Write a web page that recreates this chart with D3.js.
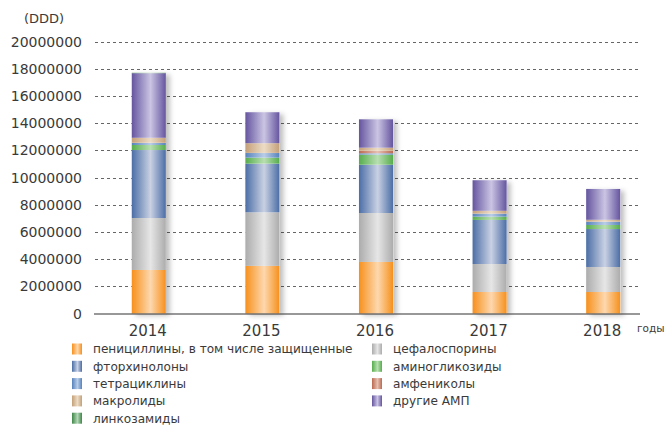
<!DOCTYPE html>
<html>
<head>
<meta charset="utf-8">
<script src="https://cdn.jsdelivr.net/npm/d3@7"></script>
<style>
  body { margin: 0; background: #fff; }
  text { font-family: "DejaVu Sans", sans-serif; fill: #3a3a3a; }
</style>
</head>
<body>
<svg id="chart" width="670" height="425"></svg>
<script>
// years on the x axis
var years = ["2014", "2015", "2016", "2017", "2018"];

// series in stacking order (bottom -> top), values in DDD
var seriesNames = [
  "пенициллины, в том числе защищенные",
  "цефалоспорины",
  "фторхинолоны",
  "аминогликозиды",
  "тетрациклины",
  "амфениколы",
  "макролиды",
  "другие АМП",
  "линкозамиды"
];
var penicillins     = [3200000, 3500000, 3790000, 1580000, 1580000];
var cephalosporins  = [3820000, 3940000, 3600000, 2060000, 1840000];
var fluoroquinolones= [5000000, 3580000, 3550000, 3240000, 2790000];
var aminoglycosides = [ 370000,  440000,  740000,  240000,  300000];
var tetracyclines   = [ 150000,  340000,  100000,  220000,  240000];
var amphenicols     = [  20000,   10000,  190000,   10000,   10000];
var macrolides      = [ 360000,  710000,  220000,  200000,  130000];
var otherAMP        = [4750000, 2280000, 2090000, 2250000, 2270000];
var lincosamides    = [  30000,       0,       0,       0,       0];
var seriesValues = [penicillins, cephalosporins, fluoroquinolones, aminoglycosides,
                    tetracyclines, amphenicols, macrolides, otherAMP, lincosamides];

// edge colour / highlight colour of each series
var edgeColors  = ["#f7901c", "#acacac", "#4b6ea6", "#56ad4c", "#5683bd", "#bb6a50", "#c4a078", "#65559f", "#3f8748"];
var lightColors = ["#fdd8ae", "#e6e6e6", "#c9d1e3", "#b8dfb1", "#b9cde6", "#e6c0b2", "#ecdcc6", "#cbc5e3", "#b3d6b7"];

var yTicks = [0, 2000000, 4000000, 6000000, 8000000, 10000000, 12000000, 14000000, 16000000, 18000000, 20000000];

// legend layout: two columns, filled column by column
var legendLeft  = [0, 2, 4, 6, 8];
var legendRight = [1, 3, 5, 7];

var svg = d3.select("#chart");

var x = d3.scaleBand().domain(years).range([92, 660]);
var y = d3.scaleLinear().domain([0, 20000000]).range([313.5, 41.5]);
var barW = x.bandwidth() * 0.3;

var defs = svg.append("defs");
edgeColors.forEach(function(c, i) {
  var g = defs.append("linearGradient").attr("id", "grad" + i)
      .attr("x1", "0").attr("x2", "1").attr("y1", "0").attr("y2", "0");
  g.append("stop").attr("offset", "0%").attr("stop-color", c);
  g.append("stop").attr("offset", "55%").attr("stop-color", lightColors[i]);
  g.append("stop").attr("offset", "100%").attr("stop-color", c);
});
var shadow = defs.append("filter").attr("id", "shadow")
    .attr("x", "-20%").attr("y", "-5%").attr("width", "160%").attr("height", "115%");
shadow.append("feDropShadow").attr("dx", 4).attr("dy", 2)
    .attr("stdDeviation", 2.5).attr("flood-color", "#000").attr("flood-opacity", 0.25);

// gridlines
svg.append("g").selectAll("line")
  .data(yTicks.slice(1))
  .enter().append("line")
    .attr("x1", 95).attr("x2", 640)
    .attr("y1", function(d) { return Math.round(y(d)) + 0.5; })
    .attr("y2", function(d) { return Math.round(y(d)) + 0.5; })
    .attr("stroke", "#666")
    .attr("stroke-dasharray", "3,3");

// y tick labels
svg.append("g").selectAll("text")
  .data(yTicks)
  .enter().append("text")
    .attr("x", 82)
    .attr("y", function(d) { return y(d); })
    .attr("dy", "0.36em")
    .attr("text-anchor", "end")
    .style("font-size", "14px")
    .text(function(d) { return d; });

svg.append("text").attr("x", 44).attr("y", 18).attr("dy", "0.36em")
  .attr("text-anchor", "middle").style("font-size", "13px").text("(DDD)");

// stacked bars
var table = years.map(function(yr, j) {
  var row = { year: yr };
  seriesNames.forEach(function(n, i) { row[n] = seriesValues[i][j]; });
  return row;
});
var stacked = d3.stack().keys(seriesNames)(table);

var bars = svg.append("g");
bars.selectAll("rect.shadow")
  .data(years)
  .enter().append("rect")
    .attr("class", "shadow")
    .attr("x", function(d) { return x(d) + x.bandwidth() / 2 - barW / 2; })
    .attr("width", barW)
    .attr("y", function(d, j) { return y(stacked[stacked.length - 1][j][1]); })
    .attr("height", function(d, j) { return y(0) - y(stacked[stacked.length - 1][j][1]); })
    .attr("fill", "#fff")
    .attr("filter", "url(#shadow)");

bars.selectAll("g.layer")
  .data(stacked)
  .enter().append("g")
    .attr("class", "layer")
    .attr("fill", function(d, i) { return "url(#grad" + i + ")"; })
  .selectAll("rect")
  .data(function(d) { return d; })
  .enter().append("rect")
    .attr("x", function(d) { return x(d.data.year) + x.bandwidth() / 2 - barW / 2; })
    .attr("width", barW)
    .attr("y", function(d) { return y(d[1]); })
    .attr("height", function(d) { return y(d[0]) - y(d[1]); });

// x axis line
svg.append("line")
  .attr("x1", 94).attr("x2", 640)
  .attr("y1", 314).attr("y2", 314)
  .attr("stroke", "#333").attr("stroke-width", 1.2);

svg.append("g").selectAll("text")
  .data(years)
  .enter().append("text")
    .attr("x", function(d) { return x(d) + x.bandwidth() / 2 - 1; })
    .attr("y", 331)
    .attr("dy", "0.36em")
    .attr("text-anchor", "middle")
    .style("font-size", "15px")
    .text(function(d) { return d; });

svg.append("text").attr("x", 637).attr("y", 328).attr("dy", "0.36em")
  .style("font-size", "10.5px").text("годы");

// legend
function drawLegend(idx, sx) {
  var g = svg.append("g");
  var item = g.selectAll("g")
    .data(idx)
    .enter().append("g")
      .attr("transform", function(d, k) { return "translate(" + sx + "," + (349 + k * 17.3) + ")"; });
  item.append("rect")
    .attr("x", 0).attr("y", -5.5)
    .attr("width", 10).attr("height", 11)
    .attr("fill", function(d) { return "url(#grad" + d + ")"; });
  item.append("text")
    .attr("x", 21).attr("dy", "0.36em")
    .style("font-size", "12.1px")
    .text(function(d) { return seriesNames[d]; });
}
drawLegend(legendLeft, 72);
drawLegend(legendRight, 372);
</script>
</body>
</html>
